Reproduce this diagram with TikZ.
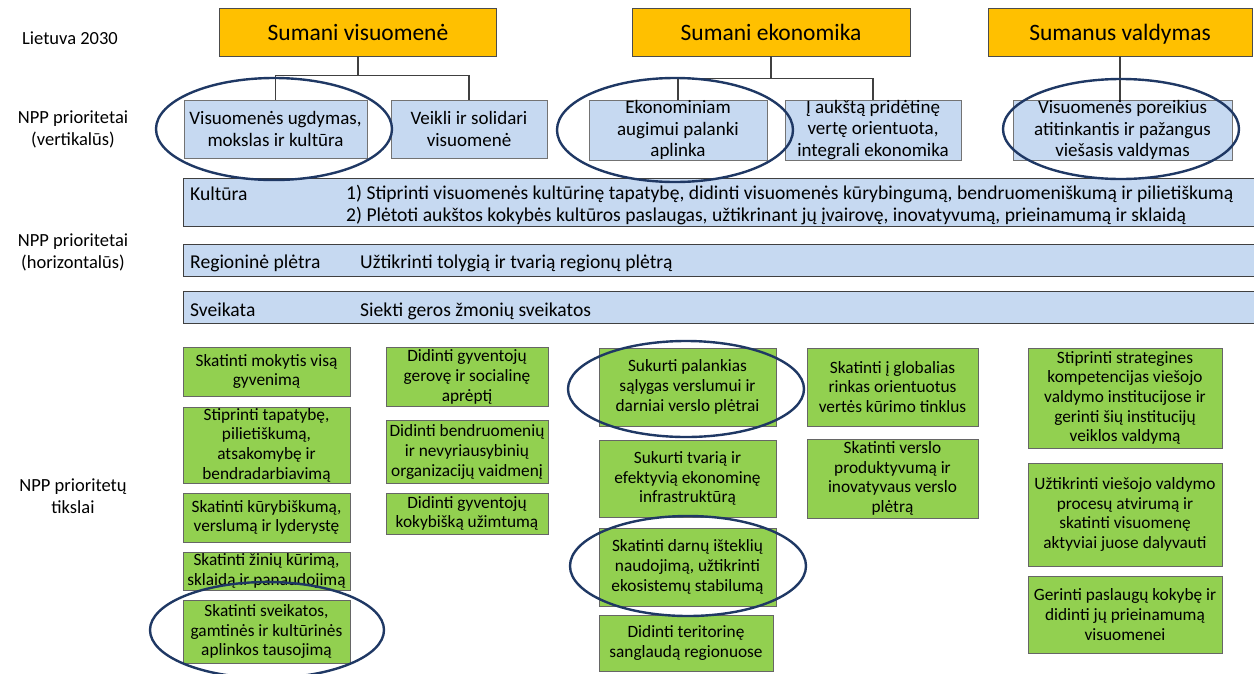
\documentclass[tikz,border=0pt]{standalone}
\usepackage{fontspec}
\setmainfont{Carlito}
\usetikzlibrary{positioning}
\definecolor{ornge}{HTML}{FFC000}
\definecolor{lblue}{HTML}{C6D9F1}
\definecolor{lgreen}{HTML}{92D050}
\definecolor{navy}{HTML}{1F3864}

\begin{document}
\begin{tikzpicture}[x=1pt,y=-1pt,
  pillar/.style={draw=black!70,fill=ornge,inner sep=0pt,text height=22pt,text depth=5pt,font=\fontsize{23.5}{28}\selectfont},
  prio/.style={draw=black!55,fill=lblue,inner sep=0pt,align=center,font=\fontsize{19}{21.8}\selectfont},
  band/.style={draw=black!75,fill=lblue,inner sep=0pt,minimum width=1075pt},
  bandtxt/.style={anchor=west,inner sep=0pt,align=left,font=\fontsize{19.6}{21.5}\selectfont},
  bandone/.style={bandtxt,text height=21.5pt,text depth=4.5pt},
  goal/.style={draw=black!60,fill=lgreen,inner sep=0pt,align=center,font=\fontsize{17.3}{19.7}\selectfont},
  side/.style={align=center,font=\fontsize{18.5}{22}\selectfont},
  ring/.style={draw=navy,line width=2.4pt},
  link/.style={draw=black!75,line width=1.2pt}]
\useasboundingbox (0,0) rectangle (1254,673);

% row labels
\node[side] (lt) at (70,38) {Lietuva 2030};
\node[side] (lv) at (73,129) {NPP prioritetai\\(vertikalūs)};
\node[side] (lh) at (73,252) {NPP prioritetai\\(horizontalūs)};
\node[side] (lg) at (73,496) {NPP prioritetų\\tikslai};

% Lietuva 2030
\node[pillar,minimum width=277pt,minimum height=48pt] (sv) at (358,32) {Sumani visuomenė};
\node[pillar,minimum width=278pt,minimum height=48pt] (se) at (771,32) {Sumani ekonomika};
\node[pillar,minimum width=264pt,minimum height=48pt] (sval) at (1120,32) {Sumanus valdymas};

% vertikalus prioritetai
\node[prio,minimum width=183pt,minimum height=58pt] (b1) at (275.5,129) {Visuomenės ugdymas,\\mokslas ir kultūra};
\node[prio,minimum width=156pt,minimum height=58pt] (b2) at (469,129) {Veikli ir solidari\\visuomenė};
\node[prio,minimum width=178pt,minimum height=58pt] (b3) at (678,130) {Ekonominiam\\augimui palanki\\aplinka};
\node[prio,minimum width=176pt,minimum height=58pt] (b4) at (873,130) {Į aukštą pridėtinę\\vertę orientuota,\\integrali ekonomika};
\node[prio,minimum width=219pt,minimum height=58pt] (b5) at (1122.5,130) {Visuomenės poreikius\\atitinkantis ir pažangus\\viešasis valdymas};

\draw[link] (sv.south) -- ++(0,19) -| (b1.north);
\draw[link] (sv.south) -- ++(0,19) -| (b2.north);
\draw[link] (se.south) -- ++(0,22) -| (b3.north);
\draw[link] (se.south) -- ++(0,22) -| (b4.north);
\draw[link] (sval.south) -- (sval.south |- b5.north);

% horizontalus prioritetai
\node[band,minimum height=48pt] (kult) at (720.5,202) {};
\node[band,minimum height=32pt] (reg) at (720.5,260) {};
\node[band,minimum height=32pt] (sve) at (720.5,307) {};
\node[bandone] (kultn) at (190,192) {Kultūra};
\node[bandtxt] (kultt) at (346,205) {1) Stiprinti visuomenės kultūrinę tapatybę, didinti visuomenės kūrybingumą, bendruomeniškumą ir pilietiškumą\\2) Plėtoti aukštos kokybės kultūros paslaugas, užtikrinant jų įvairovę, inovatyvumą, prieinamumą ir sklaidą};
\node[bandone] (regn) at (190,260) {Regioninė plėtra};
\node[bandone] (regt) at (360,260) {Užtikrinti tolygią ir tvarią regionų plėtrą};
\node[bandone] (sven) at (190,308) {Sveikata};
\node[bandone] (svet) at (360,308) {Siekti geros žmonių sveikatos};

% tikslai
\node[goal,minimum width=167pt,minimum height=49pt] (g1) at (266.5,371.5) {Skatinti mokytis visą\\gyvenimą};
\node[goal,minimum width=167pt,minimum height=76pt] (g2) at (266.5,445) {Stiprinti tapatybę,\\pilietiškumą,\\atsakomybę ir\\bendradarbiavimą};
\node[goal,minimum width=167pt,minimum height=49pt] (g3) at (266.5,517.5) {Skatinti kūrybiškumą,\\verslumą ir lyderystę};
\node[goal,minimum width=167pt,minimum height=38pt] (g4) at (266.5,571) {Skatinti žinių kūrimą,\\sklaidą ir panaudojimą};
\node[goal,minimum width=167pt,minimum height=63pt] (g5) at (266.5,631.5) {Skatinti sveikatos,\\gamtinės ir kultūrinės\\aplinkos tausojimą};

\node[goal,minimum width=162pt,minimum height=59pt] (g6) at (467,377) {Didinti gyventojų\\gerovę ir socialinę\\aprėptį};
\node[goal,minimum width=162pt,minimum height=63pt] (g7) at (467,452) {Didinti bendruomenių\\ir nevyriausybinių\\organizacijų vaidmenį};
\node[goal,minimum width=162pt,minimum height=41pt] (g8) at (467,513.5) {Didinti gyventojų\\kokybišką užimtumą};

\node[goal,minimum width=177pt,minimum height=78pt] (g9) at (687.5,387) {Sukurti palankias\\sąlygas verslumui ir\\darniai verslo plėtrai};
\node[goal,minimum width=177pt,minimum height=77pt] (g10) at (687.5,478.5) {Sukurti tvarią ir\\efektyvią ekonominę\\infrastruktūrą};
\node[goal,minimum width=177pt,minimum height=78pt] (g11) at (687.5,567) {Skatinti darnų išteklių\\naudojimą, užtikrinti\\ekosistemų stabilumą};
\node[goal,minimum width=174pt,minimum height=56pt] (g12) at (686,643) {Didinti teritorinę\\sanglaudą regionuose};

\node[goal,minimum width=171pt,minimum height=78pt] (g13) at (892.5,387) {Skatinti į globalias\\rinkas orientuotus\\vertės kūrimo tinklus};
\node[goal,minimum width=171pt,minimum height=79pt] (g14) at (892.5,478.5) {Skatinti verslo\\produktyvumą ir\\inovatyvaus verslo\\plėtrą};

\node[goal,minimum width=194pt,minimum height=100pt] (g15) at (1125,398) {Stiprinti strategines\\kompetencijas viešojo\\valdymo institucijose ir\\gerinti šių institucijų\\veiklos valdymą};
\node[goal,minimum width=194pt,minimum height=103pt] (g16) at (1125,514.5) {Užtikrinti viešojo valdymo\\procesų atvirumą ir\\skatinti visuomenę\\aktyviai juose dalyvauti};
\node[goal,minimum width=194pt,minimum height=77pt] (g17) at (1125,614.5) {Gerinti paslaugų kokybę ir\\didinti jų prieinamumą\\visuomenei};

% apvedimai
\draw[ring] (274,129) ellipse [x radius=118pt, y radius=51pt];
\draw[ring] (675,130) ellipse [x radius=118pt, y radius=52pt];
\draw[ring] (1121,129) ellipse [x radius=118pt, y radius=50pt];
\draw[ring] (686,389) ellipse [x radius=118pt, y radius=48pt];
\draw[ring] (688,566) ellipse [x radius=118pt, y radius=50pt];
\draw[ring] (267,630) ellipse [x radius=117pt, y radius=48pt];
\end{tikzpicture}
\end{document}
